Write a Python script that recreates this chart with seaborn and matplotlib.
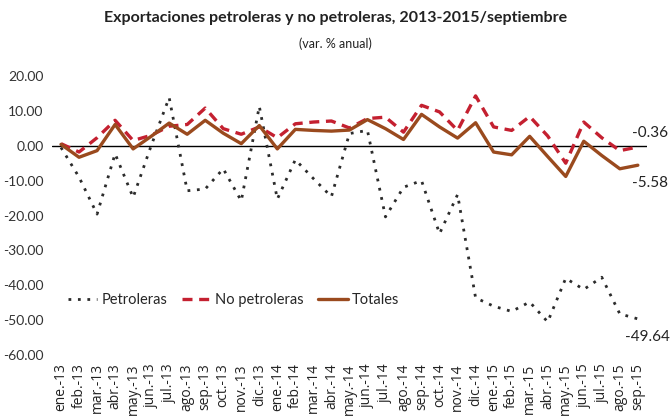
import numpy as np
import pandas as pd
import matplotlib
matplotlib.use("Agg")
import matplotlib.pyplot as plt
import seaborn as sns

# meses ene-2013 a sep-2015
meses = ["ene.-13", "feb.-13", "mar.-13", "abr.-13", "may.-13", "jun.-13",
         "jul.-13", "ago.-13", "sep.-13", "oct.-13", "nov.-13", "dic.-13",
         "ene.-14", "feb.-14", "mar.-14", "abr.-14", "may.-14", "jun.-14",
         "jul.-14", "ago.-14", "sep.-14", "oct.-14", "nov.-14", "dic.-14",
         "ene.-15", "feb.-15", "mar.-15", "abr.-15", "may.-15", "jun.-15",
         "jul.-15", "ago.-15", "sep.-15"]

petroleras = [-0.5, -9.0, -19.6, -2.3, -14.8, 0.0, 13.8, -12.9, -12.4, -6.6,
              -15.8, 11.3, -15.3, -4.0, -9.4, -14.6, 3.5, 4.4, -20.4, -11.9,
              -10.0, -25.2, -14.0, -43.6, -46.0, -47.5, -44.8, -50.5, -38.0,
              -41.2, -37.7, -48.2, -49.64]

no_petroleras = [0.6, -1.8, 2.3, 7.3, 1.5, 3.0, 5.6, 6.1, 10.8, 4.9, 3.3, 5.4,
                 2.3, 6.3, 6.8, 7.1, 5.1, 7.8, 8.2, 3.9, 11.6, 9.7, 4.4, 14.3,
                 5.4, 4.4, 8.4, 2.8, -5.0, 6.8, 2.3, -1.4, -0.36]

totales = [0.4, -3.3, -1.4, 6.1, -0.9, 2.7, 6.5, 3.3, 7.3, 3.6, 0.6, 5.8,
           -0.9, 4.7, 4.4, 4.2, 4.5, 7.5, 4.9, 1.8, 9.0, 5.4, 2.2, 6.6,
           -1.8, -2.6, 2.7, -3.1, -8.8, 1.3, -2.8, -6.6, -5.58]

series = ["Petroleras", "No petroleras", "Totales"]
colores = {"Petroleras": "#2b2b2b", "No petroleras": "#c42030", "Totales": "#9a4a1e"}
estilos = {"Petroleras": (0, (1, 2.4)), "No petroleras": (0, (3, 2)), "Totales": "-"}

df = pd.DataFrame({"mes": np.arange(len(meses)),
                   "Petroleras": petroleras,
                   "No petroleras": no_petroleras,
                   "Totales": totales})
df_long = df.melt(id_vars="mes", var_name="serie", value_name="var")

sns.set_style("white")
plt.rcParams["font.family"] = ["Lato", "DejaVu Sans"]

fig = plt.figure(figsize=(6.71, 4.19), dpi=100)
ax = fig.add_axes([0.0775, 0.1527, 0.8865, 0.6659])

for s in series:
    sub = df_long[df_long["serie"] == s]
    sns.lineplot(data=sub, x="mes", y="var", ax=ax, color=colores[s],
                 linestyle=estilos[s], linewidth=2.4 if s != "Petroleras" else 2.0,
                 label=s)

ax.axhline(0, color="black", linewidth=1.0, zorder=1)

ax.set_xlim(-0.5, len(meses) - 0.5)
ax.set_ylim(-60, 20)
ax.set_yticks(np.arange(-60, 21, 10))
ax.set_yticklabels([f"{v:.2f}" for v in np.arange(-60, 21, 10)], fontsize=10,
                   color="#333333")
ax.set_xticks(np.arange(len(meses)))
ax.set_xticklabels(meses, rotation=90, fontsize=10, color="#222222",
                   family=["Open Sans", "DejaVu Sans"])
ax.tick_params(axis="x", length=0, pad=6)
ax.tick_params(axis="y", length=0, pad=6)
ax.set_xlabel("")
ax.set_ylabel("")
for sp in ax.spines.values():
    sp.set_visible(False)

# etiquetas al final de cada serie
n = len(meses) - 1
ax.annotate(f"{no_petroleras[-1]:.2f}", (n, no_petroleras[-1]), xytext=(-4, 7),
            textcoords="offset points", fontsize=11, color="#222222")
ax.annotate(f"{totales[-1]:.2f}", (n, totales[-1]), xytext=(-4, -16),
            textcoords="offset points", fontsize=11, color="#222222")
ax.annotate(f"{petroleras[-1]:.2f}", (n, petroleras[-1]), xytext=(-9, -16),
            textcoords="offset points", fontsize=11, color="#222222")

leg = ax.legend(loc="center", bbox_to_anchor=(0.305, 0.197), ncol=3, frameon=False,
                fontsize=10.5, handlelength=2.0, columnspacing=1.0, handletextpad=0.3)

fig.text(0.5, 0.957, "Exportaciones petroleras y no petroleras, 2013-2015/septiembre",
         ha="center", va="center", fontsize=11.5, fontweight="bold", color="#222222")
fig.text(0.5, 0.895, "(var. % anual)", ha="center", va="center", fontsize=9,
         color="#222222")

fig.savefig("out.png", dpi=100)
